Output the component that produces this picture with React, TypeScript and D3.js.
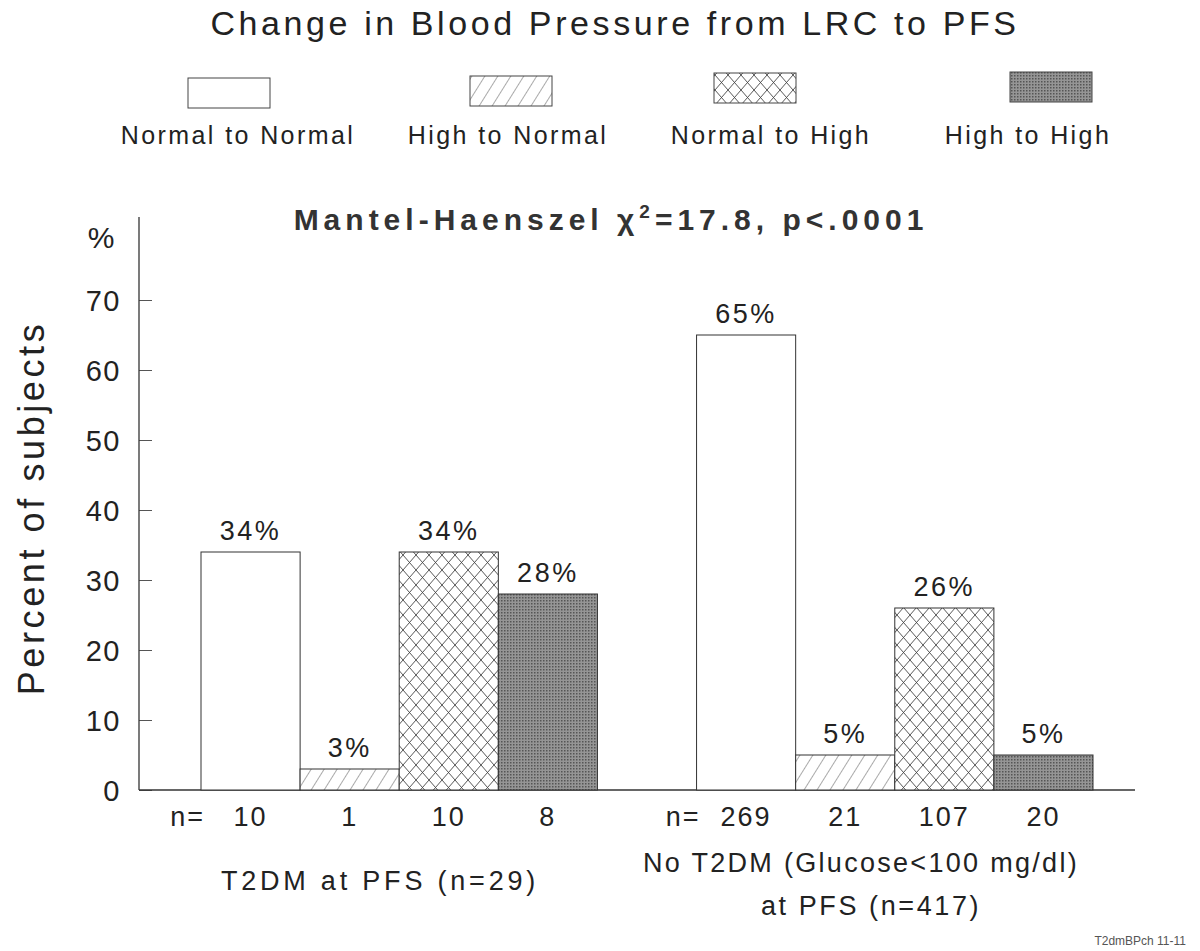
import React, { useEffect, useRef } from 'react';
import * as d3 from 'd3';

// data
const groups = ['T2DM', 'NoT2DM'];
const categories = ['Normal to Normal', 'High to Normal', 'Normal to High', 'High to High'];
const pctT2dm = [34, 3, 34, 28];
const pctNoT2dm = [65, 5, 26, 5];
const nT2dm = ['10', '1', '10', '8'];
const nNoT2dm = ['269', '21', '107', '20'];
const yTicks = [0, 10, 20, 30, 40, 50, 60, 70];

const FONT = "'Liberation Sans', Arial, sans-serif";
const INK = '#222';

export default function App() {
  const ref = useRef<SVGSVGElement>(null);

  useEffect(() => {
    if (!ref.current) return;
    const svg = d3.select(ref.current);
    svg.selectAll('*').remove();

    const txt = (sel: any, x: number, y: number, size: number, spacing: number, anchor = 'middle') =>
      sel.append('text')
        .attr('x', x).attr('y', y).attr('text-anchor', anchor)
        .attr('font-family', FONT).attr('font-size', size)
        .attr('letter-spacing', spacing).attr('fill', INK);

    // patterns
    const defs = svg.append('defs');
    const hatch = defs.append('pattern')
      .attr('id', 'hatch').attr('patternUnits', 'userSpaceOnUse')
      .attr('width', 11).attr('height', 11)
      .attr('patternTransform', 'rotate(32)');
    hatch.append('rect').attr('width', 11).attr('height', 11).attr('fill', '#fff');
    hatch.append('line').attr('x1', 0).attr('y1', 0).attr('x2', 0).attr('y2', 11)
      .attr('stroke', '#555').attr('stroke-width', 1);

    // diamond cross-hatch, a bit taller than wide
    const cross = defs.append('pattern')
      .attr('id', 'cross').attr('patternUnits', 'userSpaceOnUse')
      .attr('width', 13).attr('height', 15);
    cross.append('rect').attr('width', 13).attr('height', 15).attr('fill', '#fff');
    cross.append('path').attr('d', 'M0,0 L13,15 M13,0 L0,15')
      .attr('stroke', '#444').attr('stroke-width', 0.9).attr('fill', 'none');

    const dots = defs.append('pattern')
      .attr('id', 'dots').attr('patternUnits', 'userSpaceOnUse')
      .attr('width', 3).attr('height', 3);
    dots.append('rect').attr('width', 3).attr('height', 3).attr('fill', '#959595');
    dots.append('rect').attr('width', 1.5).attr('height', 1.5).attr('fill', '#555');

    const fills = ['#fff', 'url(#hatch)', 'url(#cross)', 'url(#dots)'];

    // title
    txt(svg, 615, 35, 34, 3.6).text('Change in Blood Pressure from LRC to PFS');

    // legend
    const legendX = [229, 511, 755, 1051];
    const legendTextX = [238, 508, 771, 1028];
    const legendY = [78, 76, 73, 72];
    categories.forEach((c, i) => {
      svg.append('rect')
        .attr('x', legendX[i] - 41).attr('y', legendY[i])
        .attr('width', 82).attr('height', 30)
        .attr('fill', fills[i]).attr('stroke', '#444').attr('stroke-width', 1);
      txt(svg, legendTextX[i], 144, 25, 2.4).text(c);
    });

    // scales
    const y = d3.scaleLinear().domain([0, 70]).range([790, 300]);
    const xOuter = d3.scaleBand<string>().domain(groups).range([201, 1093])
      .paddingInner(0.2).paddingOuter(0);
    const xInner = d3.scaleBand<string>().domain(categories)
      .range([0, xOuter.bandwidth()]).padding(0);

    const g = svg.append('g');

    // subtitle
    const sub = txt(g, 611, 230, 30, 5).attr('font-weight', 'bold').attr('fill', '#333');
    sub.append('tspan').text('Mantel-Haenszel χ');
    sub.append('tspan').attr('font-size', 19).attr('dy', -12).text('2');
    sub.append('tspan').attr('dy', 12).text('=17.8, p<.0001');

    // y axis
    const yAxis = d3.axisRight(y).tickValues(yTicks).tickSize(13).tickFormat(() => '');
    const ya = g.append('g').attr('transform', 'translate(139,0)').call(yAxis);
    ya.select('.domain').remove();
    ya.selectAll('line').attr('stroke', '#555');
    g.append('line').attr('x1', 139).attr('x2', 139).attr('y1', 217).attr('y2', 790)
      .attr('stroke', '#333').attr('stroke-width', 1.3);
    yTicks.forEach(t => {
      txt(g, 121, y(t) + 11, 29, 1.5, 'end').text(String(t));
    });
    txt(g, 101, 248, 30, 0).text('%');
    txt(g, 0, 0, 36, 3.6)
      .attr('transform', 'translate(44,508) rotate(-90)')
      .text('Percent of subjects');

    // x baseline
    g.append('line').attr('x1', 139).attr('x2', 1135).attr('y1', 790).attr('y2', 790)
      .attr('stroke', '#333').attr('stroke-width', 1.3);

    const series = [
      { group: groups[0], pct: pctT2dm, n: nT2dm },
      { group: groups[1], pct: pctNoT2dm, n: nNoT2dm },
    ];

    series.forEach(s => {
      const x0 = xOuter(s.group) || 0;
      const data = categories.map((c, i) => ({ c, i, v: s.pct[i], n: s.n[i] }));
      const cx = (d: any) => x0 + (xInner(d.c) || 0) + xInner.bandwidth() / 2;
      g.selectAll(null).data(data).enter().append('rect')
        .attr('x', d => x0 + (xInner(d.c) || 0))
        .attr('y', d => y(d.v))
        .attr('width', xInner.bandwidth())
        .attr('height', d => y(0) - y(d.v))
        .attr('fill', d => fills[d.i])
        .attr('stroke', '#333').attr('stroke-width', 1);
      data.forEach(d => {
        txt(g, cx(d), y(d.v) - 12, 27, 2.5).text(`${d.v}%`);
        txt(g, cx(d), 826, 27, 2).text(d.n);
      });
      txt(g, x0 + 4, 826, 27, 2, 'end').text('n=');
    });

    // group labels
    txt(g, 380, 890, 27, 3.8).text('T2DM at PFS (n=29)');
    txt(g, 861, 872, 27, 2.3).text('No T2DM (Glucose<100 mg/dl)');
    txt(g, 871, 915, 27, 2.6).text('at PFS (n=417)');

    // footnote
    txt(svg, 1186, 945, 12, 0, 'end').attr('fill', '#555').text('T2dmBPch 11-11');
  }, []);

  return (
    <svg ref={ref} width={1200} height={951}
      style={{ position: 'absolute', left: 0, top: 0, background: '#fff' }} />
  );
}
